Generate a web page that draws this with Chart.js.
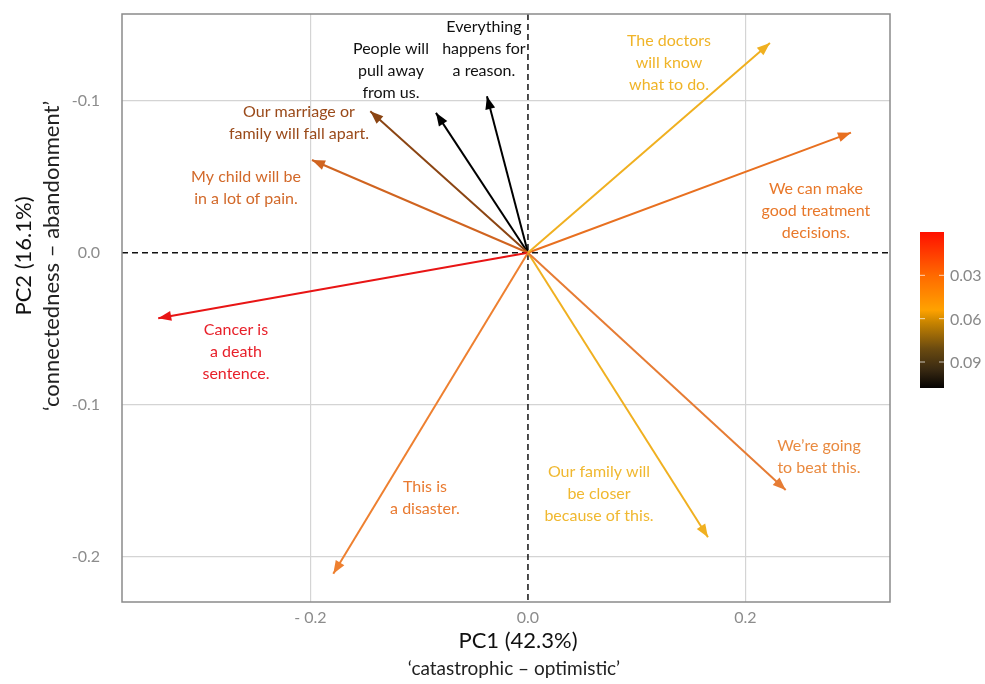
<!DOCTYPE html>
<html><head><meta charset="utf-8">
<script src="https://cdn.jsdelivr.net/npm/chart.js@4/dist/chart.umd.min.js"></script>
<style>html,body{margin:0;padding:0;background:#fff}#wrap{width:985px;height:684px}</style>
</head><body><div id="wrap"><canvas id="c" width="985" height="684"></canvas></div>
<script>
// ---- data ----
const statements = [
  "The doctors will know what to do.",
  "We can make good treatment decisions.",
  "We\u2019re going to beat this.",
  "Our family will be closer because of this.",
  "This is a disaster.",
  "Cancer is a death sentence.",
  "My child will be in a lot of pain.",
  "Our marriage or family will fall apart.",
  "People will pull away from us.",
  "Everything happens for a reason."
];
const pc1 = [0.2225, 0.297, 0.237, 0.1655, -0.179, -0.340, -0.1986, -0.145, -0.0846, -0.0377];
const pc2 = [0.138, 0.079, -0.156, -0.187, -0.211, -0.043, 0.061, 0.093, 0.092, 0.103];
const arrowColors = ["#F0B020", "#E87020", "#E67C34", "#F0B020", "#EE8030", "#E81515", "#D06420", "#8B4513", "#000000", "#000000"];
const labelColors = ["#F0B428", "#E8782A", "#E98A40", "#F0B830", "#E97A30", "#E8202A", "#D2692A", "#9A4A1A", "#111111", "#111111"];
const labelLines = [
  ["The doctors", "will know", "what to do."],
  ["We can make", "good treatment", "decisions."],
  ["We\u2019re going", "to beat this."],
  ["Our family will", "be closer", "because of this."],
  ["This is", "a disaster."],
  ["Cancer is", "a death", "sentence."],
  ["My child will be", "in a lot of pain."],
  ["Our marriage or", "family will fall apart."],
  ["People will", "pull away", "from us."],
  ["Everything", "happens for", "a reason."]
];
const labelX = [0.1297, 0.2648, 0.2676, 0.0653, -0.0947, -0.2685, -0.2593, -0.2106, -0.126, -0.0405];
const labelY = [0.125, 0.0276, -0.1339, -0.1586, -0.1612, -0.0651, 0.0428, 0.0852, 0.1197, 0.1342];
const xTicks = [-0.2, 0, 0.2];
const xTickLabels = ["- 0.2", "0.0", "0.2"];
const yTicks = [0.1, 0, -0.1, -0.2];
const yTickLabels = ["-0.1", "0.0", "-0.1", "-0.2"];
const xTitle = ["PC1 (42.3%)", "\u2018catastrophic \u2013 optimistic\u2019"];
const yTitle = ["PC2 (16.1%)", "\u2018connectedness \u2013 abandonment\u2019"];
const cbTicks = [0.03, 0.06, 0.09];
const cbRange = [0.0, 0.108];

const FONT = "Lato, 'Open Sans', sans-serif";

const datasets = statements.map((s, i) => ({
  label: s,
  data: [{x: 0, y: 0}, {x: pc1[i], y: pc2[i]}],
  showLine: true,
  borderColor: arrowColors[i],
  backgroundColor: arrowColors[i],
  borderWidth: 2,
  pointRadius: 0,
  pointHoverRadius: 0
}));

const extras = {
  id: 'extras',
  beforeDatasetsDraw(chart) {
    const {ctx, chartArea: a, scales: {x, y}} = chart;
    ctx.save();
    ctx.strokeStyle = '#111';
    ctx.lineWidth = 1.5;
    ctx.setLineDash([6, 4]);
    const x0 = x.getPixelForValue(0), y0 = y.getPixelForValue(0);
    ctx.beginPath(); ctx.moveTo(x0, a.top); ctx.lineTo(x0, a.bottom); ctx.stroke();
    ctx.beginPath(); ctx.moveTo(a.left, y0); ctx.lineTo(a.right, y0); ctx.stroke();
    ctx.setLineDash([]);
    ctx.strokeStyle = '#8a8a8a';
    ctx.lineWidth = 1.5;
    ctx.strokeRect(a.left, a.top, a.right - a.left, a.bottom - a.top);
    ctx.restore();
  },
  afterDatasetsDraw(chart) {
    const {ctx, chartArea: a, scales: {x, y}} = chart;
    ctx.save();
    // arrowheads
    chart.data.datasets.forEach((ds, i) => {
      const pts = chart.getDatasetMeta(i).data;
      const p0 = pts[0], p1 = pts[1];
      const ang = Math.atan2(p1.y - p0.y, p1.x - p0.x);
      const L = 13, W = 5;
      ctx.fillStyle = ds.borderColor;
      ctx.beginPath();
      ctx.moveTo(p1.x, p1.y);
      ctx.lineTo(p1.x - L * Math.cos(ang) + W * Math.sin(ang), p1.y - L * Math.sin(ang) - W * Math.cos(ang));
      ctx.lineTo(p1.x - L * Math.cos(ang) - W * Math.sin(ang), p1.y - L * Math.sin(ang) + W * Math.cos(ang));
      ctx.closePath();
      ctx.fill();
    });
    // labels
    ctx.font = "16px " + FONT;
    ctx.textAlign = 'center';
    ctx.textBaseline = 'middle';
    const LH = 22;
    labelLines.forEach((lines, i) => {
      const cx = x.getPixelForValue(labelX[i]);
      const cy = y.getPixelForValue(labelY[i]);
      ctx.fillStyle = labelColors[i];
      lines.forEach((t, k) => {
        ctx.fillText(t, cx, cy + (k - (lines.length - 1) / 2) * LH);
      });
    });
    ctx.restore();
  },
  afterDraw(chart) {
    const {ctx, chartArea: a} = chart;
    ctx.save();
    ctx.textAlign = 'center';
    ctx.textBaseline = 'middle';
    // x title
    ctx.fillStyle = '#111';
    ctx.font = "22px " + FONT;
    ctx.fillText(xTitle[0], 518, 641);
    ctx.fillStyle = '#222';
    ctx.font = "19px " + FONT;
    ctx.fillText(xTitle[1], 514, 669);
    // y title
    ctx.save();
    ctx.translate(24, 256);
    ctx.rotate(-Math.PI / 2);
    ctx.fillStyle = '#111';
    ctx.font = "22px " + FONT;
    ctx.fillText(yTitle[0], 0, 0);
    ctx.restore();
    ctx.save();
    ctx.translate(52, 256);
    ctx.rotate(-Math.PI / 2);
    ctx.fillStyle = '#222';
    ctx.font = "22px " + FONT;
    ctx.fillText(yTitle[1], 0, 0);
    ctx.restore();
    // colorbar
    const bx = 920, bw = 24, bt = 232, bb = 388;
    const g = ctx.createLinearGradient(0, bt, 0, bb);
    g.addColorStop(0, '#FF1000');
    g.addColorStop(0.28, '#FF6A00');
    g.addColorStop(0.5, '#FFA200');
    g.addColorStop(0.58, '#C88400');
    g.addColorStop(0.75, '#6A4A10');
    g.addColorStop(0.88, '#3A2A12');
    g.addColorStop(1, '#050302');
    ctx.fillStyle = g;
    ctx.fillRect(bx, bt, bw, bb - bt);
    ctx.font = "16px " + FONT;
    ctx.textAlign = 'left';
    cbTicks.forEach(v => {
      const py = bt + (v - cbRange[0]) / (cbRange[1] - cbRange[0]) * (bb - bt);
      ctx.strokeStyle = 'rgba(255,255,255,0.7)';
      ctx.lineWidth = 1;
      ctx.beginPath(); ctx.moveTo(bx, py); ctx.lineTo(bx + 5, py); ctx.stroke();
      ctx.beginPath(); ctx.moveTo(bx + bw - 5, py); ctx.lineTo(bx + bw, py); ctx.stroke();
      ctx.fillStyle = '#888';
      ctx.fillText(v.toFixed(2), bx + bw + 6, py + 1);
    });
    ctx.restore();
  }
};

new Chart(document.getElementById('c'), {
  type: 'scatter',
  data: {datasets},
  options: {
    responsive: false,
    animation: false,
    devicePixelRatio: 1,
    layout: {padding: {top: 14, right: 95, left: 0, bottom: 0}},
    plugins: {legend: {display: false}, tooltip: {enabled: false}, title: {display: false}},
    scales: {
      x: {
        type: 'linear', min: -0.3733, max: 0.3329,
        afterBuildTicks: s => { s.ticks = xTicks.map(v => ({value: v})); },
        afterFit: s => { s.height = 82; s.paddingLeft = 0; s.paddingRight = 0; },
        grid: {color: c => c.tick && c.tick.value === 0 ? 'rgba(0,0,0,0)' : '#d4d4d4', lineWidth: 1.2, drawTicks: false},
        border: {display: false},
        ticks: {padding: 6, color: '#8c8c8c', font: {family: FONT, size: 16},
          callback: (v, i) => xTickLabels[i]}
      },
      y: {
        type: 'linear', min: -0.2296, max: 0.157,
        afterBuildTicks: s => { s.ticks = yTicks.map(v => ({value: v})); },
        afterFit: s => { s.width = 122; s.paddingTop = 0; s.paddingBottom = 0; },
        grid: {color: c => c.tick && c.tick.value === 0 ? 'rgba(0,0,0,0)' : '#d4d4d4', lineWidth: 1.2, drawTicks: false},
        border: {display: false},
        ticks: {padding: 22, color: '#8c8c8c', font: {family: FONT, size: 16},
          callback: (v, i) => yTickLabels[i]}
      }
    }
  },
  plugins: [extras]
});
</script>
</body></html>
